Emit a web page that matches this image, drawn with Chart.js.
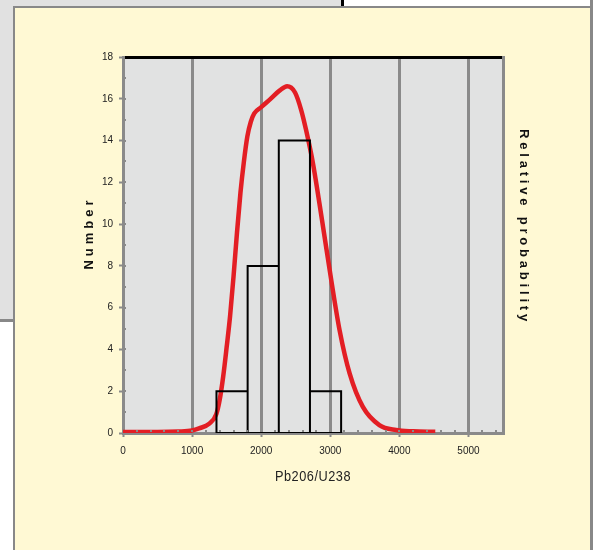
<!DOCTYPE html>
<html><head><meta charset="utf-8">
<script src="https://cdn.jsdelivr.net/npm/chart.js@4.4.1/dist/chart.umd.min.js"></script>
<style>
html,body{margin:0;padding:0;width:597px;height:550px;overflow:hidden;background:#fff;position:relative}
#back{position:absolute;left:0;top:0;width:341px;height:319px;background:#e1e1e1;border-right:3px solid #000;border-bottom:3px solid #888}
#panel{position:absolute;left:13px;top:6px;width:575px;height:560px;background:#fff9d4;border-left:2px solid #888;border-top:2px solid #888}
#rightEdge{position:absolute;left:590px;top:0;width:3px;height:550px;background:#888}
#c{position:absolute;left:0;top:0}
</style>
</head><body>
<div id="back"></div>
<div id="panel"></div>
<div id="rightEdge"></div>
<canvas id="c" width="597" height="550"></canvas>
<script>
// ---- data ----
const binEdges = [1353, 1804, 2255, 2706, 3157];
const binCounts = [2, 8, 14, 2];
const curveX = [0, 500, 800, 1000, 1100, 1250, 1350, 1400, 1450, 1500, 1550, 1600, 1650, 1700, 1750, 1800, 1850, 1900, 2000, 2120, 2270, 2375, 2490, 2580, 2650, 2750, 2880, 3015, 3136, 3280, 3470, 3710, 3950, 4200, 4520];
const curveY = [0.05, 0.05, 0.07, 0.12, 0.22, 0.45, 0.9, 1.6, 2.7, 4.1, 5.6, 7.5, 9.6, 11.5, 13.0, 14.2, 14.9, 15.3, 15.6, 15.95, 16.4, 16.6, 16.3, 15.45, 14.5, 12.9, 10.2, 7.3, 4.9, 2.85, 1.26, 0.38, 0.14, 0.08, 0.06];
const xTickValues = [0, 1000, 2000, 3000, 4000, 5000];
const yTickValues = [0, 2, 4, 6, 8, 10, 12, 14, 16, 18];
const xTitle = 'Pb206/U238';
const yTitle = 'Number';
const y2Title = 'Relative probability';

// histogram outline built from bin edges and counts
const histOutline = [];
for (let i = 0; i < binCounts.length; i++) {
  histOutline.push({x: binEdges[i], y: 0}, {x: binEdges[i], y: binCounts[i]},
                   {x: binEdges[i + 1], y: binCounts[i]}, {x: binEdges[i + 1], y: 0});
}
histOutline.push({x: binEdges[0], y: 0});
const curveData = curveX.map((x, i) => ({x, y: curveY[i]}));

const tickFont = {family: "'Liberation Sans',Arial,sans-serif", size: 10};
const GRAY = '#8a8a8a';

// per-axis title styling: letter spacing, vertical shift, horizontal squeeze
const titleStyle = {
  x: {sp: '0.6px', dy: 3, sx: 0.85},
  y: {sp: '4px', dy: -12, sx: 1},
  y2: {sp: '3.8px', dy: -18, sx: 1}
};

const areaBg = {
  id: 'areaBg',
  beforeDraw(chart) {
    const {ctx, chartArea: a} = chart;
    ctx.save();
    ctx.fillStyle = '#e1e2e2';
    ctx.fillRect(a.left, a.top, a.right - a.left, a.bottom - a.top);
    ctx.restore();
    for (const id in chart.scales) {
      const s = chart.scales[id];
      if (!s._wrapTitle) {
        const orig = s.drawTitle;
        s.drawTitle = function () {
          const st = titleStyle[this.id] || {sp: '0px', dy: 0, sx: 1};
          const c = this.ctx;
          c.save();
          c.letterSpacing = st.sp;
          const cx = (this.left + this.right) / 2;
          c.translate(cx, st.dy);
          c.scale(st.sx, 1);
          c.translate(-cx, 0);
          orig.apply(this, arguments);
          c.restore();
        };
        s._wrapTitle = true;
      }
    }
  },
  afterDraw(chart) {
    const {ctx} = chart;
    const xs = chart.scales.x, ys = chart.scales.y;
    ctx.save();
    ctx.fillStyle = GRAY;
    for (let v = xs.min + 200; v < xs.max; v += 200) {
      const px = xs.getPixelForValue(v);
      ctx.fillRect(Math.round(px) - 1, ys.bottom - 3, 2, 2);
    }
    for (let v = ys.min + 1; v < ys.max; v += 1) {
      const py = ys.getPixelForValue(v);
      ctx.fillRect(xs.left + 1, Math.round(py) - 1, 2, 2);
    }
    ctx.restore();
  }
};

new Chart(document.getElementById('c'), {
  type: 'line',
  data: {
    datasets: [
      {label: 'Histogram', data: histOutline, borderColor: '#000', borderWidth: 2, pointRadius: 0, tension: 0, fill: false, order: 0},
      {label: 'Probability', data: curveData, borderColor: '#e31e24', borderWidth: 4.5, pointRadius: 0, cubicInterpolationMode: 'monotone', fill: false, order: 1, borderCapStyle: 'butt'}
    ]
  },
  options: {
    responsive: false,
    animation: false,
    layout: {padding: {left: 75, right: 60, top: 57, bottom: 60}},
    plugins: {legend: {display: false}, tooltip: {enabled: false}},
    scales: {
      x: {
        type: 'linear', position: 'bottom', min: 0, max: 5500,
        afterBuildTicks: s => { s.ticks = xTickValues.map(v => ({value: v})); },
        ticks: {autoSkip: false, maxRotation: 0, padding: 8, color: '#222', font: tickFont, callback: v => String(v)},
        grid: {color: GRAY, lineWidth: 3, tickLength: 4, tickColor: GRAY, tickWidth: 2},
        border: {color: GRAY, width: 3},
        title: {display: true, text: xTitle, color: '#222', font: {family: "'Liberation Sans',Arial,sans-serif", size: 15}, padding: {top: 0, bottom: 7}},
        afterFit: s => { s.height = 57; }
      },
      x2: {
        type: 'linear', position: 'top', min: 0, max: 5500, display: true,
        ticks: {display: false}, grid: {display: false},
        border: {color: '#000', width: 3},
        afterFit: s => { s.height = 0; }
      },
      y: {
        type: 'linear', position: 'left', min: 0, max: 18,
        afterBuildTicks: s => { s.ticks = yTickValues.map(v => ({value: v})); },
        ticks: {padding: 6, color: '#222', font: tickFont, callback: v => String(v)},
        grid: {drawOnChartArea: false, tickLength: 4, tickColor: GRAY, tickWidth: 2, color: GRAY},
        border: {color: GRAY, width: 3},
        title: {display: true, text: yTitle, color: '#111', font: {family: "'Liberation Sans',Arial,sans-serif", size: 13, weight: 'bold'}, padding: {top: 7, bottom: 0}},
        afterFit: s => { s.width = 48; }
      },
      y2: {
        type: 'linear', position: 'right', min: 0, max: 18, display: true,
        ticks: {display: false}, grid: {display: false},
        border: {color: GRAY, width: 3},
        title: {display: true, text: y2Title, color: '#111', font: {family: "'Liberation Sans',Arial,sans-serif", size: 13, weight: 'bold'}, padding: {top: 6, bottom: 0}},
        afterFit: s => { s.width = 34; }
      }
    }
  },
  plugins: [areaBg]
});
</script>
</body></html>
